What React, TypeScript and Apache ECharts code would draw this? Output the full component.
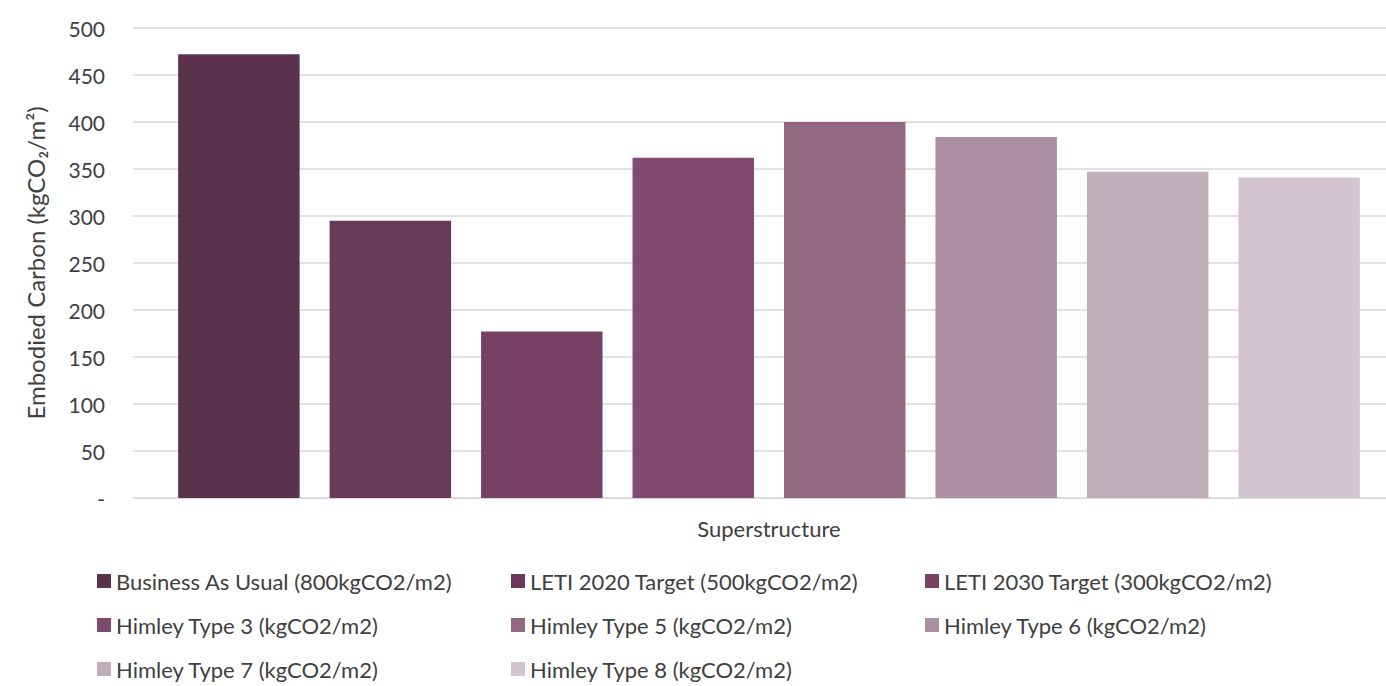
import React, { useEffect, useRef } from "react";
import * as echarts from "echarts";

const categories = ["Superstructure"];
const seriesNames = [
  "Business As Usual (800kgCO2/m2)",
  "LETI 2020 Target (500kgCO2/m2)",
  "LETI 2030 Target (300kgCO2/m2)",
  "Himley Type 3 (kgCO2/m2)",
  "Himley Type 5 (kgCO2/m2)",
  "Himley Type 6 (kgCO2/m2)",
  "Himley Type 7 (kgCO2/m2)",
  "Himley Type 8 (kgCO2/m2)",
];
const seriesValues = [472, 295, 177, 362, 400, 384, 347, 341];
const seriesColors = [
  "#5b324e",
  "#6a3a5a",
  "#774266",
  "#814a6f",
  "#936882",
  "#ab90a2",
  "#bfadb8",
  "#d2c5ce",
];
const yAxisName = "Embodied Carbon (kgCO\u2082/m\u00b2)";

const FONT = "Lato, 'Noto Sans', sans-serif";

export default function App() {
  const ref = useRef<HTMLDivElement>(null);
  useEffect(() => {
    if (!ref.current) return;
    const chart = echarts.init(ref.current, undefined, { renderer: "svg" });
    chart.setOption({
      animation: false,
      backgroundColor: "#ffffff",
      textStyle: { fontFamily: FONT },
      grid: { left: 133, top: 28, right: 0, height: 470, containLabel: false },
      legend: {
        left: 97,
        top: 564,
        padding: 0,
        width: 1280,
        itemWidth: 14,
        itemHeight: 14,
        itemGap: 10,
        icon: "rect",
        data: seriesNames,
        textStyle: {
          fontFamily: FONT,
          fontSize: 22,
          color: "#404040",
          width: 385,
          lineHeight: 34,
        },
      },
      xAxis: {
        type: "category",
        data: categories,
        axisLine: { lineStyle: { color: "#d9d9d9", width: 1.5 } },
        axisTick: { show: false },
        axisLabel: { fontFamily: FONT, fontSize: 22, color: "#404040", margin: 19 },
      },
      yAxis: {
        type: "value",
        min: 0,
        max: 500,
        interval: 50,
        name: yAxisName,
        nameLocation: "middle",
        nameGap: 86,
        nameTextStyle: { fontFamily: FONT, fontSize: 24, color: "#404040" },
        axisLine: { show: false },
        axisTick: { show: false },
        splitLine: { lineStyle: { color: "#d9d9d9", width: 1.5 } },
        axisLabel: {
          fontFamily: FONT,
          fontSize: 21,
          color: "#404040",
          margin: 28,
          formatter: (v: number) => (v === 0 ? "-" : String(v)),
          rich: {},
          padding: [0, 0, 0, 0],
        },
      },
      series: seriesNames.map((name, i) => ({
        name,
        type: "bar",
        data: [seriesValues[i]],
        itemStyle: { color: seriesColors[i] },
        barGap: "24.7%",
        barCategoryGap: "7.1%",
      })),
    });
    return () => chart.dispose();
  }, []);
  return (
    <div
      ref={ref}
      style={{ position: "fixed", left: 0, top: 0, width: 1405, height: 686 }}
    />
  );
}
